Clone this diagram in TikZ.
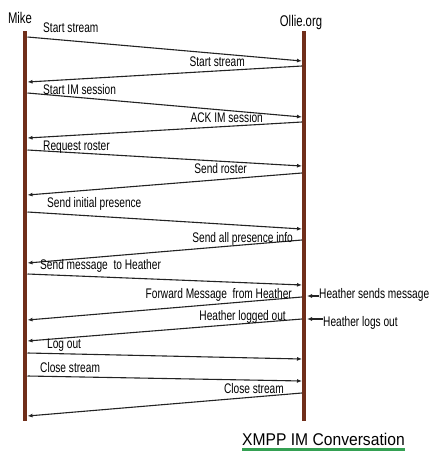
\documentclass[tikz,border=0pt]{standalone}
\usepackage{fontspec}
\setmainfont{Liberation Sans}[FakeStretch=0.73]
\newfontfamily\capfont{Liberation Sans}[FakeStretch=0.92]
\usepackage{tikz}
\usetikzlibrary{arrows.meta,positioning}
\usepackage{xcolor}
\definecolor{LifeBrown}{RGB}{112, 46, 26}
\definecolor{MsgGrey}{RGB}{35, 35, 35}
\definecolor{CapGreen}{RGB}{52, 160, 82}

\begin{document}
\begin{tikzpicture}[x=1pt, y=-1pt,
    lifeline/.style={LifeBrown, line width=4pt},
    msg/.style={MsgGrey, line width=1.1pt, -{Latex[length=5pt,width=4pt]}},
    lbl/.style={inner sep=0pt, font=\fontsize{13.9}{16}\selectfont},
    actor/.style={inner sep=0pt, font=\fontsize{15.5}{18}\selectfont}]
  \useasboundingbox (0,0) rectangle (436,453);
  % Actors and lifelines
  \node[actor, anchor=base] (mike) at (20,23) {Mike};
  \node[actor, anchor=base] (ollie) at (301,26) {Ollie.org};
  \coordinate (mikeTop) at (25.3,31);
  \coordinate (mikeBot) at (25.3,421);
  \coordinate (ollieTop) at (304,31);
  \coordinate (ollieBot) at (304,421);
  \draw[lifeline] (mikeTop) -- (mikeBot);
  \draw[lifeline] (ollieTop) -- (ollieBot);
  % Mike -> Ollie.org
  \foreach \i/\ys/\ye in {1/37/61, 3/93/117, 5/150/166, 7/212/229, 9/274/285, 12/353/359, 13/376/381}{
    \coordinate (s\i) at (27.5,\ys);
    \coordinate (e\i) at (302,\ye);
    \draw[msg] (s\i) -- (e\i);
  }
  % Ollie.org -> Mike
  \foreach \i/\ys/\ye in {2/66/82, 4/122/138, 6/173/195, 8/240/263, 10/297/320, 11/319/341, 14/393/416}{
    \coordinate (s\i) at (302,\ys);
    \coordinate (e\i) at (27.5,\ye);
    \draw[msg] (s\i) -- (e\i);
  }
  % Message labels
  \node[lbl, anchor=base west] (m1) at (43,32) {Start stream};
  \node[lbl, anchor=base east] (m2) at (245,66) {Start stream};
  \node[lbl, anchor=base west] (m3) at (43,94) {Start IM session};
  \node[lbl, anchor=base east] (m4) at (263,122) {ACK IM session};
  \node[lbl, anchor=base west] (m5) at (43,150) {Request roster};
  \node[lbl, anchor=base east] (m6) at (247,173) {Send roster};
  \node[lbl, anchor=base west] (m7) at (47,207) {Send initial presence};
  \node[lbl, anchor=base east] (m8) at (293,242) {Send all presence info};
  \node[lbl, anchor=base west] (m9) at (40,269) {Send message~ to Heather};
  \node[lbl, anchor=base east] (m10) at (292,298) {Forward Message~ from Heather};
  \node[lbl, anchor=base east] (m11) at (286,320) {Heather logged out};
  \node[lbl, anchor=base west] (m12) at (47,348) {Log out};
  \node[lbl, anchor=base west] (m13) at (40,372) {Close stream};
  \node[lbl, anchor=base east] (m14) at (284,393) {Close stream};
  % Outside events at Ollie.org
  \node[lbl, anchor=base west] (hsend) at (319,298) {Heather sends message};
  \node[lbl, anchor=base west] (hout) at (323,326) {Heather logs out};
  \coordinate (hsendIn) at (307,296);
  \coordinate (houtIn) at (307,319);
  \draw[msg] (hsend.west |- hsendIn) -- (hsendIn);
  \draw[msg] (hout.west |- houtIn) -- (houtIn);
  % Caption
  \node[inner sep=0pt, anchor=base west, font=\capfont\fontsize{17}{20}\selectfont] (cap) at (242,445) {XMPP IM Conversation};
  \draw[CapGreen, line width=3pt] (cap.south west |- 0,449) -- (cap.south east |- 0,449);
\end{tikzpicture}
\end{document}
